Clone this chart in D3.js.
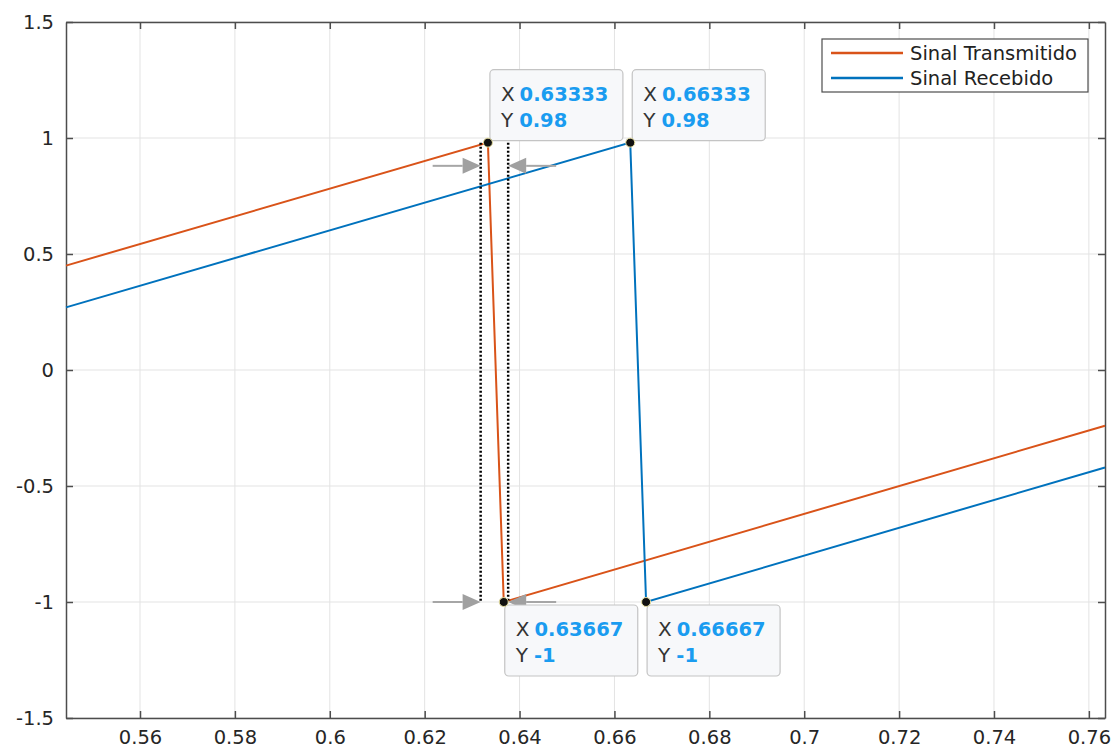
<!DOCTYPE html>
<html>
<head>
<meta charset="utf-8">
<script src="https://cdn.jsdelivr.net/npm/d3@7"></script>
<style>
  body { margin: 0; background: #fff; }
  text { font-family: "DejaVu Sans", "Liberation Sans", Arial, sans-serif; }
</style>
</head>
<body>
<div id="main"></div>
<script>
// series (vertices of the visible sawtooth pieces)
var transmitido = [[0.5444, 0.45], [0.63333, 0.98], [0.63667, -1], [0.7634, -0.24]];
var recebido = [[0.5444, 0.27], [0.66333, 0.98], [0.66667, -1], [0.7634, -0.42]];
var seriesNames = ["Sinal Transmitido", "Sinal Recebido"];
var seriesColors = ["#D95319", "#0072BD"];
var xTicks = [0.56, 0.58, 0.6, 0.62, 0.64, 0.66, 0.68, 0.7, 0.72, 0.74, 0.76];
var yTicks = [-1.5, -1, -0.5, 0, 0.5, 1, 1.5];
// data tips: x, y, which side the box is drawn
var tips = [
  { x: 0.63333, y: 0.98, label: "0.63333", ylab: "0.98", pos: "top" },
  { x: 0.66333, y: 0.98, label: "0.66333", ylab: "0.98", pos: "top" },
  { x: 0.63667, y: -1, label: "0.63667", ylab: "-1", pos: "bottom" },
  { x: 0.66667, y: -1, label: "0.66667", ylab: "-1", pos: "bottom" }
];
// delay markers (dotted lines) at these x values
var markers = [0.6318, 0.6376];

var W = 1115, H = 749;
var mLeft = 66, mRight = 1105, mTop = 22, mBottom = 718;

var svg = d3.select("#main").append("svg")
  .attr("width", W)
  .attr("height", H);

var x = d3.scaleLinear().domain([0.5444, 0.7634]).range([mLeft, mRight]);
var y = d3.scaleLinear().domain([-1.5, 1.5]).range([mBottom, mTop]);
var plain = d => String(d);

// grid
svg.append("g").selectAll("line").data(xTicks).enter().append("line")
  .attr("x1", d => x(d)).attr("x2", d => x(d))
  .attr("y1", mTop).attr("y2", mBottom)
  .attr("stroke", "#e3e3e3").attr("stroke-width", 1);
svg.append("g").selectAll("line").data(yTicks).enter().append("line")
  .attr("x1", mLeft).attr("x2", mRight)
  .attr("y1", d => y(d)).attr("y2", d => y(d))
  .attr("stroke", "#e3e3e3").attr("stroke-width", 1);

// axes
svg.append("g").attr("transform", "translate(0," + mBottom + ")")
  .call(d3.axisBottom(x).tickValues(xTicks).tickSizeInner(-7).tickSizeOuter(0).tickPadding(12)
    .tickFormat(plain));
svg.append("g").attr("transform", "translate(0," + mTop + ")")
  .call(d3.axisTop(x).tickValues(xTicks).tickSizeInner(-7).tickSizeOuter(0).tickFormat(""));
svg.append("g").attr("transform", "translate(" + mLeft + ",0)")
  .call(d3.axisLeft(y).tickValues(yTicks).tickSizeInner(-7).tickSizeOuter(0).tickPadding(12)
    .tickFormat(plain));
svg.append("g").attr("transform", "translate(" + mRight + ",0)")
  .call(d3.axisRight(y).tickValues(yTicks).tickSizeInner(-7).tickSizeOuter(0).tickFormat(""));

svg.selectAll(".domain").attr("stroke", "#4d4d4d").attr("stroke-width", 1.5);
svg.selectAll(".tick line").attr("stroke", "#4d4d4d").attr("stroke-width", 1.5);
svg.selectAll(".tick text").attr("fill", "#262626").style("font-size", "19.5px")
  .style("font-family", "'DejaVu Sans', sans-serif");

// lines
var line = d3.line().x(d => x(d[0])).y(d => y(d[1]));
[transmitido, recebido].forEach(function (s, i) {
  svg.append("path")
    .attr("d", line(s))
    .attr("fill", "none")
    .attr("stroke", seriesColors[i])
    .attr("stroke-width", 2);
});

// dotted markers
svg.append("g").selectAll("line").data(markers).enter().append("line")
  .attr("x1", d => x(d)).attr("x2", d => x(d))
  .attr("y1", y(0.98)).attr("y2", y(-1))
  .attr("stroke", "#000").attr("stroke-width", 2.5)
  .attr("stroke-dasharray", "2,2");

// gray arrows
function arrow(tipX, yv, dir) {
  var yy = y(yv);
  var tx = x(tipX);
  var len = 18, tail = 48;
  svg.append("line")
    .attr("x1", tx - dir * tail).attr("x2", tx - dir * len)
    .attr("y1", yy).attr("y2", yy)
    .attr("stroke", "#a6a6a6").attr("stroke-width", 2);
  svg.append("path")
    .attr("d", "M" + tx + "," + yy + "L" + (tx - dir * len) + "," + (yy - 8) + "L" + (tx - dir * len) + "," + (yy + 8) + "Z")
    .attr("fill", "#a0a0a0");
}
arrow(markers[0], 0.88, 1);
arrow(markers[1], 0.88, -1);
arrow(markers[0], -1, 1);
arrow(markers[1], -1, -1);

// data tips
tips.forEach(function (t) {
  var px = x(t.x), py = y(t.y);
  var bw = 133, bh = 71;
  var bx, by;
  if (t.pos === "top") { bx = px + 2; by = py - bh - 2; }
  else { bx = px + 1; by = py + 3; }
  var g = svg.append("g");
  g.append("rect")
    .attr("x", bx).attr("y", by).attr("width", bw).attr("height", bh)
    .attr("rx", 4)
    .attr("fill", "#f7f8fa").attr("stroke", "#c4c4c4").attr("stroke-width", 1.2);
  g.append("text").attr("x", bx + 11).attr("y", by + 31)
    .style("font-size", "20px").attr("fill", "#333")
    .text("X")
    .append("tspan").attr("dx", 5).attr("fill", "#1a9cf0").attr("font-weight", "bold")
    .style("font-size", "19.5px").text(t.label);
  g.append("text").attr("x", bx + 11).attr("y", by + 57)
    .style("font-size", "20px").attr("fill", "#333")
    .text("Y")
    .append("tspan").attr("dx", 6).attr("fill", "#1a9cf0").attr("font-weight", "bold")
    .style("font-size", "19.5px").text(t.ylab);
  svg.append("circle").attr("cx", px).attr("cy", py).attr("r", 4.5)
    .attr("fill", "#111").attr("stroke", "#e8e0a0").attr("stroke-width", 1);
});

// legend
var lg = svg.append("g").attr("transform", "translate(822,39)");
lg.append("rect").attr("width", 266).attr("height", 53)
  .attr("fill", "#fff").attr("stroke", "#4d4d4d").attr("stroke-width", 1.2);
seriesNames.forEach(function (n, i) {
  lg.append("line").attr("x1", 9).attr("x2", 81)
    .attr("y1", 14 + i * 25).attr("y2", 14 + i * 25)
    .attr("stroke", seriesColors[i]).attr("stroke-width", 2.5);
  lg.append("text").attr("x", 88).attr("y", 21 + i * 25)
    .style("font-size", "19.5px").attr("fill", "#222").text(n);
});
</script>
</body>
</html>
